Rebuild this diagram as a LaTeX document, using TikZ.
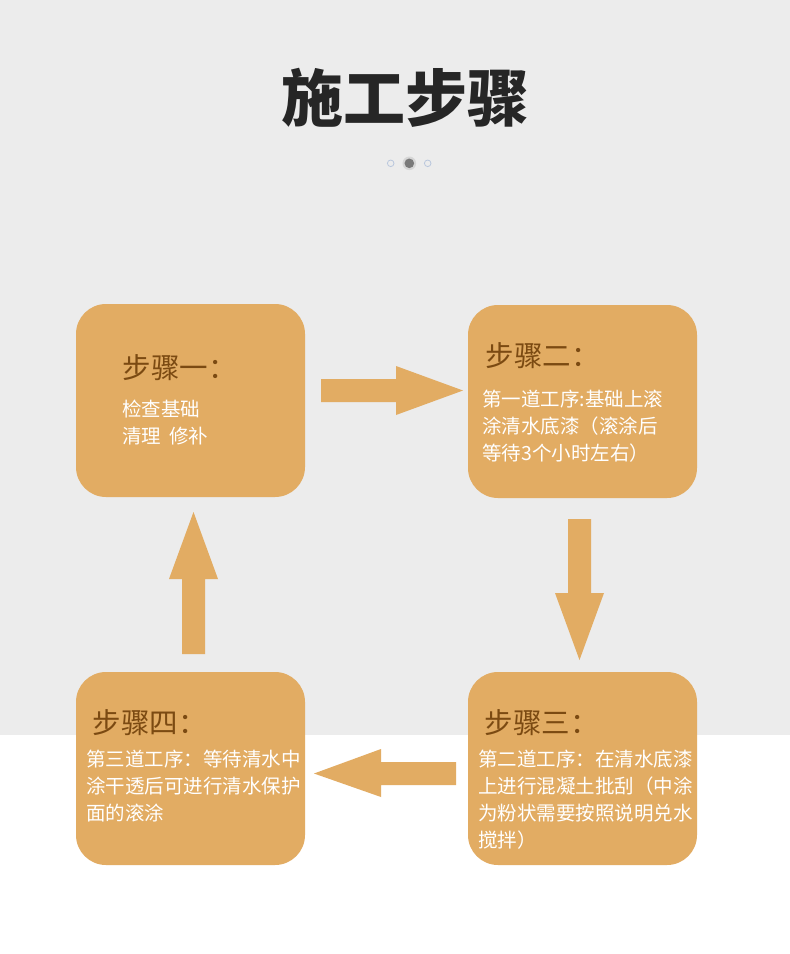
\documentclass[tikz,border=0pt]{standalone}
\usepackage{fontspec}
\setmainfont{Noto Sans CJK SC}
\newfontfamily\cjk{Noto Sans CJK SC}
\definecolor{bggray}{HTML}{ECECEC}
\definecolor{boxfill}{HTML}{E2AC63}
\definecolor{headbrown}{HTML}{7B4A12}
\definecolor{titlegray}{HTML}{262626}
\definecolor{dotblue}{HTML}{B9C7DD}
\definecolor{dotgray}{HTML}{7A7A7A}
\definecolor{halogray}{HTML}{D6D6D6}
\tikzset{
  stepbox/.style={fill=boxfill, draw=none, rounded corners=30pt},
  blockarrow/.style={fill=boxfill, draw=none},
  heading/.style={anchor=north west, inner sep=0pt, text=headbrown, font={\cjk\fontsize{28.5}{30}\selectfont}},
  bodytext/.style={anchor=north west, inner sep=0pt, align=left, text=white, font={\cjk\fontsize{19.5}{27}\selectfont}},
}
\begin{document}
\begin{tikzpicture}[x=1pt,y=-1pt]
\useasboundingbox (0,0) rectangle (790,954);
\fill[white] (0,0) rectangle (790,954);
\fill[bggray] (0,0) rectangle (790,735);
% title
\node[inner sep=0pt, text=titlegray, font={\cjk\bfseries\fontsize{62}{62}\selectfont}] (title) at (405.5,97.5) {施工步骤};
% dots
\draw[dotblue, line width=0.8pt] (390.7,163.3) circle[radius=3.3];
\fill[halogray] (409.3,163.3) circle[radius=6.8];
\fill[dotgray] (409.3,163.3) circle[radius=4.8];
\draw[dotblue, line width=0.8pt] (427.7,163.3) circle[radius=3.3];
% boxes
\fill[stepbox] (76,304) rectangle (305,497);
\fill[stepbox] (468,305) rectangle (697,498);
\fill[stepbox] (468,672) rectangle (697,865);
\fill[stepbox] (76,672) rectangle (305,865);
% box texts
\node[heading] (h1) at (122.5,354) {步骤一：};
\node[bodytext] (b1) at (122,399.5) {检查基础\\清理\hspace{8pt}修补};
\node[heading] (h2) at (485.5,342) {步骤二：};
\node[bodytext] (b2) at (482,389.5) {第一道工序:基础上滚\\涂清水底漆（滚涂后\\等待3个小时左右）};
\node[heading] (h3) at (484.5,709) {步骤三：};
\node[bodytext] (b3) at (478,750) {第二道工序：在清水底漆\\上进行混凝土批刮（中涂\\为粉状需要按照说明兑水\\搅拌）};
\node[heading] (h4) at (92.5,709) {步骤四：};
\node[bodytext] (b4) at (86,750) {第三道工序：等待清水中\\涂干透后可进行清水保护\\面的滚涂};
% arrows
\fill[blockarrow] (321,379) -- (396,379) -- (396,366) -- (463,390.5) -- (396,415) -- (396,402) -- (321,402) -- cycle;
\fill[blockarrow] (568,519) -- (591,519) -- (591,593) -- (604,593) -- (579.5,660) -- (555,593) -- (568,593) -- cycle;
\fill[blockarrow] (456,762) -- (381,762) -- (381,749) -- (314,773.5) -- (381,797) -- (381,785) -- (456,785) -- cycle;
\fill[blockarrow] (182,654) -- (182,579) -- (169,579) -- (193.5,512) -- (218,579) -- (205,579) -- (205,654) -- cycle;
\end{tikzpicture}
\end{document}
